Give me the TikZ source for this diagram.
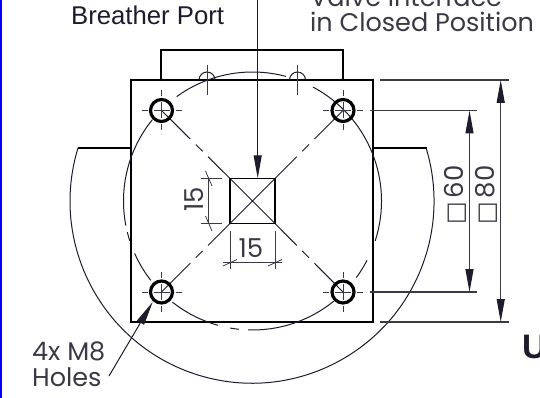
\documentclass[tikz,border=0pt]{standalone}
\usepackage{fontspec}
\setmainfont{Liberation Sans}
\newfontfamily\geofont{Poppins}
\newfontfamily\symfont{DejaVu Sans}
\usetikzlibrary{arrows.meta,calc}
\definecolor{ink}{HTML}{1C1C2C}
\definecolor{dimc}{HTML}{3A3A46}
\tikzset{x=1pt,y=-1pt,
 plate/.style={draw=black,line width=1.4pt},
 thinline/.style={draw=ink,line width=1pt},
 dimline/.style={draw=dimc,line width=1.1pt},
 cl/.style={draw=dimc,line width=.8pt},
 hole/.style={draw=black,line width=3.2pt},
 lab/.style={text=dimc,inner sep=0pt,anchor=base west,font=\geofont\fontsize{25.5}{27}\selectfont},
 dimlab/.style={text=dimc,inner sep=0pt,font=\geofont\fontsize{26}{28}\selectfont},
}
\newcommand{\holemark}[1]{%
 \draw[cl] ($(#1)+(-20,0)$) -- ++(6,0) ($(#1)+(-8,0)$) -- ++(16,0) ($(#1)+(14,0)$) -- ++(6,0);
 \draw[cl] ($(#1)+(0,-20)$) -- ++(0,6) ($(#1)+(0,-8)$) -- ++(0,16) ($(#1)+(0,14)$) -- ++(0,6);
 \draw[hole] (#1) circle[radius=11];
}
\newcommand{\centreline}[2]{%
 \draw[thinline] (#1) -- ($(#1)!.42!(#2)$)
   ($(#1)!.50!(#2)$) -- ($(#1)!.60!(#2)$)
   ($(#1)!.68!(#2)$) -- (#2);
}
\begin{document}
\begin{tikzpicture}
\useasboundingbox (0,0) rectangle (540,398);
\clip (0,0) rectangle (540,398);
\fill[white] (0,0) rectangle (540,398);
\draw[blue,line width=1.5pt] (0.8,0) -- (0.8,398);
\coordinate (c) at (252.5,201);
\coordinate (h1) at (161.5,110.5);
\coordinate (h2) at (343,110.5);
\coordinate (h3) at (161.5,292);
\coordinate (h4) at (343,292);
% large arc
\draw[thinline] (78,148) arc[start angle=197,end angle=-17,radius=182];
\draw[plate] (78,148) -- (131,148);
\draw[plate] (373,148) -- (427,148);
% plate
\draw[plate] (131,80) rectangle (373,322);
\draw[plate] (161,80) -- (161,50) -- (343,50) -- (343,80);
% broken circle
\foreach \a/\b in {234/285,298/378,27.4/36.4,51/92,96/100,105.5/128.4,142/156,162/166,169/219}
  \draw[thinline] ($(c)+(\a:129)$) arc[start angle=\a,end angle=\b,radius=129];
% breather ports
\foreach \x in {207,297.5}{
  \draw[thinline] (\x-8,80) arc[start angle=180,end angle=360,radius=8];
  \draw[cl] (\x,65) -- (\x,95);
}
% square
\node[draw=black,line width=1.4pt,minimum size=45pt,inner sep=0pt,outer sep=0pt] (sq) at (c) {};
\draw[thinline] (sq.north west) -- (sq.south east) (sq.north east) -- (sq.south west);
% centre lines
\centreline{h1}{sq.north west}
\centreline{h2}{sq.north east}
\centreline{h3}{sq.south west}
\centreline{h4}{sq.south east}
\foreach \h in {h1,h2,h3,h4} {\holemark{\h}}
% 15 dims
\draw[cl] (200.7,178.5) -- (222,178.5) (200.7,223.5) -- (222,223.5);
\draw[cl] (208,178.5) -- (208,223.5);
\draw[cl] (205.5,171) -- (212,186) (205.5,216) -- (212,231);
\node[dimlab,rotate=90] (t15a) at (194,199.5) {15};
\draw[cl] (230,231) -- (230,269) (275,231) -- (275,269);
\draw[cl] (223,262.7) -- (282,262.7);
\draw[cl] (223,266) -- (237,259.5) (268,266) -- (282,259.5);
\node[dimlab] (t15b) at (251,248) {15};
% overall dims
\draw[dimline] (370,110.5) -- (477,110.5) (370,292) -- (477,292);
\draw[dimline] (380,80) -- (509,80) (380,322) -- (509,322);
\coordinate (d60a) at (469.5,110.5);
\coordinate (d60b) at (469.5,292);
\coordinate (d80a) at (500.7,80);
\coordinate (d80b) at (500.7,322);
\draw[dimline,{Triangle[length=23pt,width=8pt,color=ink]}-{Triangle[length=23pt,width=8pt,color=ink]}] (d60a) -- (d60b);
\draw[dimline,{Triangle[length=23pt,width=8pt,color=ink]}-{Triangle[length=23pt,width=8pt,color=ink]}] (d80a) -- (d80b);
\node[dimlab,rotate=90,anchor=west] (t60) at (455,225) {{\symfont\fontsize{24}{24}\selectfont □}\hspace{4pt}60};
\node[dimlab,rotate=90,anchor=west] (t80) at (486,225) {{\symfont\fontsize{24}{24}\selectfont □}\hspace{4pt}80};
% labels
\node[inner sep=0pt,anchor=base west,text=ink,font=\fontsize{25.7}{27}\selectfont] (bp) at (71,25) {Breather Port};
\node[lab] (vi) at (310,6.7) {Valve Interface};
\node[lab] (cp) at (310,32) {in Closed Position};
\node[lab] (m8) at (32,360.7) {4x M8};
\node[lab] (ho) at (32,386.3) {Holes};
\node[inner sep=0pt,anchor=base west,text=ink,font=\bfseries\fontsize{34}{36}\selectfont] (u) at (522,358) {U};
% leaders
\coordinate (top) at (257.7,0);
\draw[thinline,-{Triangle[length=23pt,width=8pt,color=ink]}] (top) -- (257.7,178.3);
\coordinate (lead) at (109,376);
\draw[thinline,-{Triangle[length=24pt,width=8pt,color=ink]}] (lead) -- (152.7,302);
\end{tikzpicture}
\end{document}
